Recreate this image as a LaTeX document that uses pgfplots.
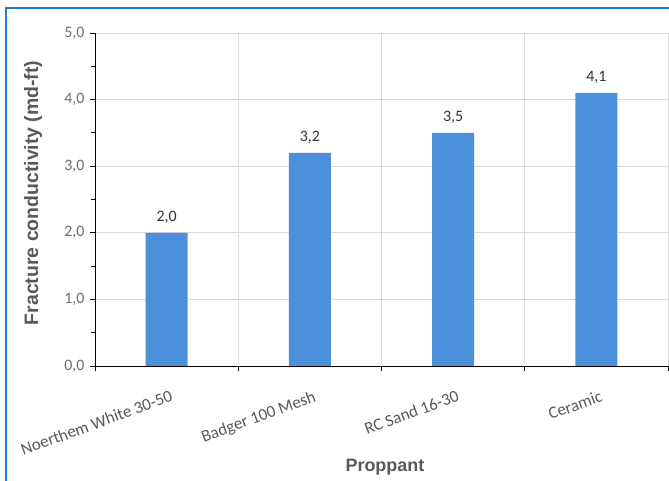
\documentclass[border=0pt]{standalone}
\usepackage{pgfplots}
\pgfplotsset{compat=1.18}
\usepackage{fontspec}
\setmainfont{Carlito}
\newfontfamily\labelfont{Liberation Sans}
\definecolor{barblue}{HTML}{4A90DA}
\definecolor{frameblue}{HTML}{1E7FD0}
\definecolor{txtgray}{HTML}{595959}
\definecolor{ticktxt}{HTML}{6E6E6E}
\definecolor{gridgray}{HTML}{D9D9D9}

\pgfplotstableread{
x  y
0  2.0
1  3.2
2  3.5
3  4.1
}\proppant

\begin{document}
\begin{tikzpicture}[x=1bp,y=1bp]
\useasboundingbox (0,0) rectangle (669,481);
\fill[white] (0,0) rectangle (669,481);
\draw[frameblue, line width=1.6bp] (6,0) -- (6,473) -- (669,473);
\begin{axis}[
  at={(95bp,115bp)}, anchor=south west,
  scale only axis, width=573bp, height=333bp,
  xmin=-0.5, xmax=3.5, ymin=0, ymax=5,
  axis x line=bottom, axis y line=left,
  axis line style={-, black, line width=0.9bp},
  tick align=outside,
  major tick length=5bp, minor tick length=4bp,
  tick style={black, line width=0.9bp},
  /pgf/number format/assume math mode=true,
  ytick={0,1,2,3,4,5}, minor ytick={0.5,1.5,2.5,3.5,4.5},
  xtick={-0.5,0.5,1.5,2.5,3.5}, xticklabels={},
  extra x ticks={0,1,2,3},
  extra x tick labels={Noerthem White 30-50,Badger 100 Mesh,RC Sand 16-30,Ceramic},
  extra x tick style={grid=none, major tick length=0pt,
    xticklabel style={rotate=20, anchor=north east, xshift=-2bp, yshift=-20bp,
      font=\fontsize{17}{19}\selectfont, text=txtgray}},
  xmajorgrids, ymajorgrids,
  major grid style={gridgray, line width=0.8bp},
  yticklabel style={/pgf/number format/fixed, /pgf/number format/fixed zerofill,
    /pgf/number format/precision=1, /pgf/number format/use comma,
    font=\fontsize{16}{18}\selectfont, text=ticktxt, xshift=-2bp},
  ylabel={Fracture conductivity (md-ft)},
  xlabel={Proppant},
  label style={font=\labelfont\bfseries\fontsize{18}{21}\selectfont, text=txtgray},
  ylabel style={at={(axis description cs:-0.108,0.52)}, anchor=center,
    font=\labelfont\bfseries\fontsize{19.5}{22}\selectfont},
  xlabel style={at={(axis description cs:0.506,-0.303)}, anchor=center},
  nodes near coords,
  nodes near coords style={font=\fontsize{16}{18}\selectfont, text=black!80,
    /pgf/number format/fixed, /pgf/number format/fixed zerofill,
    /pgf/number format/precision=1, /pgf/number format/use comma,
    /pgf/number format/assume math mode=true},
  every node near coord/.append style={yshift=6bp},
  clip=false,
]
\addplot[ybar, bar width=42bp, fill=barblue, draw=none, bar shift=0pt] table[x=x, y=y] {\proppant};
\end{axis}
\end{tikzpicture}
\end{document}
